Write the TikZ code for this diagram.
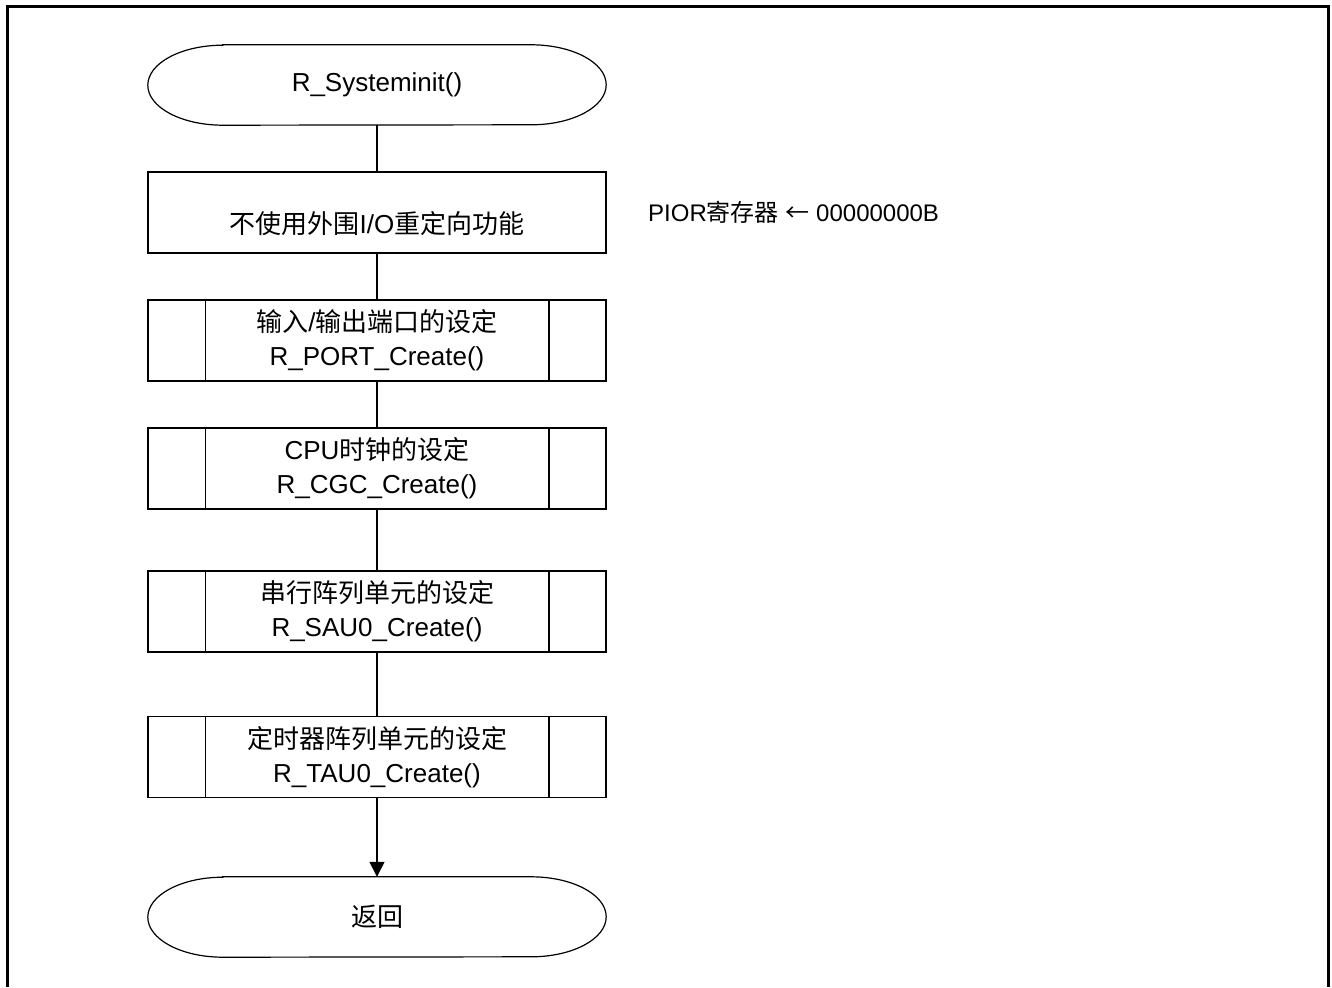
\documentclass[tikz,border=0pt]{standalone}
\usepackage{fontspec}
\setmainfont{Liberation Sans}
\newfontfamily\cjk{Noto Sans CJK SC}
\usetikzlibrary{arrows.meta,calc}
\tikzset{
  txt/.style={font=\fontsize{26}{34}\selectfont, align=center, inner sep=0pt},
  notetxt/.style={font=\fontsize{24}{30}\selectfont, inner sep=0pt},
  procbox/.style={draw, line width=1.5pt, minimum width=458pt, minimum height=81pt, inner sep=0pt},
  termshape/.style={minimum width=458pt, minimum height=80pt, inner sep=0pt},
  conn/.style={line width=1.5pt},
  frameline/.style={line width=3pt},
}
\newcommand{\stadium}[1]{%
  \draw[line width=1.2pt] ([xshift=75pt]#1.north west) -- ([xshift=-75pt]#1.north east)
    arc(90:-90:75pt and 40pt) -- ([xshift=75pt]#1.south west)
    arc(270:90:75pt and 40pt) -- cycle;}
\newcommand{\subbars}[1]{%
  \draw[line width=1.5pt] ([xshift=58pt]#1.north west) -- ([xshift=58pt]#1.south west);
  \draw[line width=1.5pt] ([xshift=-58pt]#1.north east) -- ([xshift=-58pt]#1.south east);}
\begin{document}
\begin{tikzpicture}[x=1pt,y=-1pt]
\useasboundingbox (0,0) rectangle (1332,987);
\draw[frameline] (7,987) -- (7,7) -- (1328,7) -- (1328,987);

\node[termshape, txt] (start) at (377,85) {R\_Systeminit()};
\stadium{start}

\node[procbox] (b1) at (377,212.5) {};
\node[txt] (b1t) at (377,224) {{\cjk 不使用外围}I/O{\cjk 重定向功能}};

\node[procbox, txt] (b2) at (377,340.5) {{\cjk 输入}/{\cjk 输出端口的设定}\\R\_PORT\_Create()};
\subbars{b2}
\node[procbox, txt] (b3) at (377,468.5) {CPU{\cjk 时钟的设定}\\R\_CGC\_Create()};
\subbars{b3}
\node[procbox, txt] (b4) at (377,611.5) {{\cjk 串行阵列单元的设定}\\R\_SAU0\_Create()};
\subbars{b4}
\node[procbox, txt] (b5) at (377,757) {{\cjk 定时器阵列单元的设定}\\R\_TAU0\_Create()};
\subbars{b5}

\node[termshape, txt] (end) at (377,917) {\cjk 返回};
\stadium{end}

\node[notetxt, anchor=west] (pior) at (648,212) {PIOR{\cjk 寄存器} {\cjk ←} 00000000B};

\draw[conn] (start) -- (b1);
\draw[conn] (b1) -- (b2);
\draw[conn] (b2) -- (b3);
\draw[conn] (b3) -- (b4);
\draw[conn] (b4) -- (b5);
\draw[conn, -{Triangle[length=15pt,width=15pt]}] (b5) -- (end);
\end{tikzpicture}
\end{document}
